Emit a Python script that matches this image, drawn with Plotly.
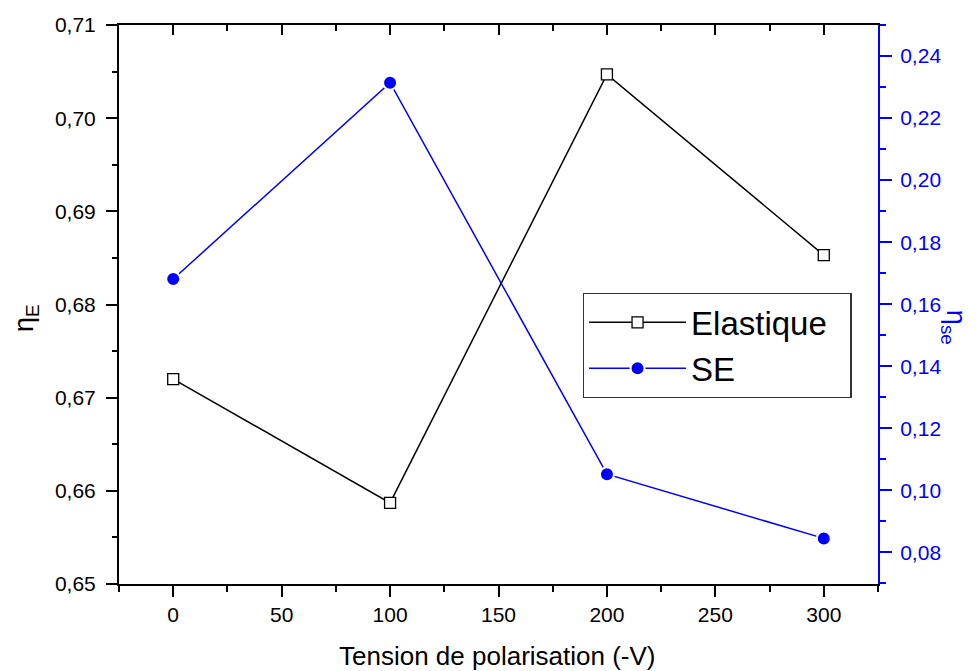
import plotly.graph_objects as go

tension = [0, 100, 200, 300]
eta_elastique = [0.6720, 0.6587, 0.7047, 0.6853]
eta_se = [0.1681, 0.2314, 0.1052, 0.0845]

x_ticks = [0, 50, 100, 150, 200, 250, 300]

FONT = "Liberation Sans, Arial, sans-serif"
BLUE = "#0000FF"
NB = "\u00a0"

fig = go.Figure()

fig.add_trace(go.Scatter(
    x=tension, y=eta_elastique, name="Elastique" + NB * 2,
    mode="lines+markers",
    line=dict(color="black", width=1.5),
    marker=dict(symbol="square", size=11, color="white",
                line=dict(color="black", width=1.3)),
    xaxis="x", yaxis="y",
))
fig.add_trace(go.Scatter(
    x=tension, y=eta_se, name="SE",
    mode="lines+markers",
    line=dict(color=BLUE, width=1.5),
    marker=dict(symbol="circle", size=14, color=BLUE,
                line=dict(color="white", width=2)),
    xaxis="x", yaxis="y2",
))
# carrier for the top frame axis (no visible marks)
fig.add_trace(go.Scatter(
    x=[None], y=[None], xaxis="x2", yaxis="y",
    showlegend=False, hoverinfo="skip", mode="markers",
))

fig.update_layout(
    width=978, height=671,
    paper_bgcolor="white", plot_bgcolor="white",
    margin=dict(l=119, r=100, t=25, b=87),
    separators=", ",
    font=dict(family=FONT, size=21, color="black"),
    showlegend=True,
    legend=dict(
        x=0.611, y=0.4266, xanchor="left", yanchor="middle",
        bgcolor="white", bordercolor="#333333", borderwidth=1.3,
        font=dict(family=FONT, size=33, color="black"),
        itemwidth=97, tracegroupgap=0,
    ),
    xaxis=dict(
        range=[-25, 325], tickmode="array", tickvals=x_ticks,
        ticks="outside", ticklen=11, tickwidth=2, tickcolor="black",
        minor=dict(dtick=25, tick0=0, ticks="outside", ticklen=6,
                   tickwidth=2, tickcolor="black"),
        showline=True, linecolor="black", linewidth=2,
        showgrid=False, zeroline=False, automargin=False,
        tickfont=dict(family=FONT, size=21, color="black"),
    ),
    xaxis2=dict(
        range=[-25, 325], overlaying="x", side="top", anchor="y",
        tickmode="array", tickvals=x_ticks, showticklabels=False,
        ticks="inside", ticklen=10, tickwidth=2, tickcolor="black",
        minor=dict(dtick=25, tick0=0, ticks="inside", ticklen=6,
                   tickwidth=2, tickcolor="black"),
        showline=True, linecolor="black", linewidth=2,
        showgrid=False, zeroline=False, automargin=False,
    ),
    yaxis=dict(
        range=[0.65, 0.71], dtick=0.01, tick0=0.65, tickformat=".2f",
        ticks="outside", ticklen=11, tickwidth=2, tickcolor="black",
        minor=dict(dtick=0.005, ticks="outside", ticklen=5,
                   tickwidth=2, tickcolor="black"),
        showline=True, linecolor="black", linewidth=2,
        showgrid=False, zeroline=False, ticklabelstandoff=6,
        automargin=False,
        tickfont=dict(family=FONT, size=21, color="black"),
    ),
    yaxis2=dict(
        range=[0.0698, 0.25], dtick=0.02, tick0=0, tickformat=".2f",
        overlaying="y", side="right", anchor="x",
        ticks="outside", ticklen=12, tickwidth=2, tickcolor=BLUE,
        minor=dict(dtick=0.01, ticks="outside", ticklen=6,
                   tickwidth=2, tickcolor=BLUE),
        showline=True, linecolor=BLUE, linewidth=2,
        showgrid=False, zeroline=False, ticklabelstandoff=4,
        automargin=False,
        tickfont=dict(family=FONT, size=21, color=BLUE),
    ),
    annotations=[
        dict(
            text="Tension de polarisation (-V)",
            xref="paper", yref="paper", x=0.4987, y=-0.1288,
            xanchor="center", yanchor="middle", showarrow=False,
            font=dict(family=FONT, size=26, color="black"),
        ),
        dict(
            text="η<sub>E</sub>", textangle=-90,
            xref="paper", yref="paper", x=(26 - 119) / 759, y=0.476,
            xanchor="center", yanchor="middle", showarrow=False,
            font=dict(family=FONT, size=27, color="black"),
        ),
        dict(
            text="η<sub>se</sub>", textangle=90,
            xref="paper", yref="paper", x=1.0 + 76 / 759, y=0.46,
            xanchor="center", yanchor="middle", showarrow=False,
            font=dict(family=FONT, size=27, color=BLUE),
        ),
    ],
)

fig.write_html(
    "out.html",
    config={"displayModeBar": False},
    post_script="document.body.style.margin='0px';",
)
